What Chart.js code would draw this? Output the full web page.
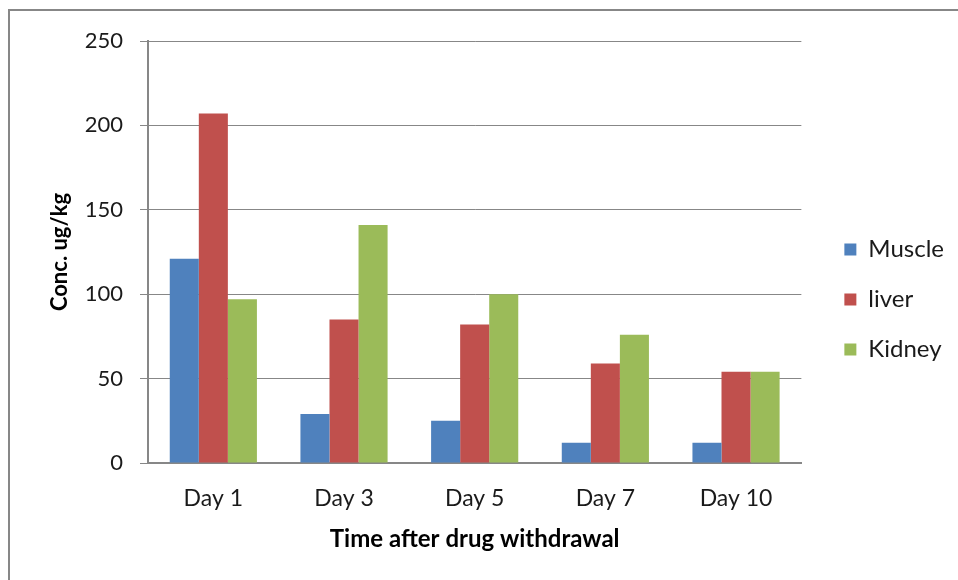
<!DOCTYPE html>
<html>
<head>
<meta charset="utf-8">
<script src="https://cdn.jsdelivr.net/npm/chart.js@4.4.1/dist/chart.umd.min.js"></script>
<style>
  html, body { margin: 0; padding: 0; background: #fff; overflow: hidden; }
  #wrap { position: relative; width: 958px; height: 580px; }
  #frame {
    position: absolute; left: 8px; top: 9px; width: 2000px; height: 2000px;
    border-left: 2px solid #878787; border-top: 2px solid #878787;
    pointer-events: none;
  }
</style>
</head>
<body>
<div id="wrap">
  <canvas id="barChart" width="958" height="580"></canvas>
  <div id="frame"></div>
</div>
<script>
var dias = ["Day 1", "Day 3", "Day 5", "Day 7", "Day 10"];
var musculo = [121, 29, 25, 12, 12];
var figado = [207, 85, 82, 59, 54];
var rim = [97, 141, 100, 76, 54];
var ticksY = [0, 50, 100, 150, 200, 250];

var fonte = "Lato, 'Open Sans', sans-serif";

// empurra a legenda um pouco para a direita (como no Excel)
var deslocaLegenda = {
  id: "deslocaLegenda",
  afterLayout: function (chart) {
    var lg = chart.legend;
    lg.left += 17;
    lg.right += 17;
    lg.top -= 11;
    lg.bottom -= 11;
  },
};

var chartBar = new Chart(document.getElementById("barChart"), {
  type: "bar",

  data: {
    labels: dias,

    datasets: [
      { label: "Muscle", data: musculo, backgroundColor: "#4F81BD" },
      { label: "liver", data: figado, backgroundColor: "#C0504D" },
      { label: "Kidney", data: rim, backgroundColor: "#9BBB59" },
    ],
  },

  plugins: [deslocaLegenda],

  options: {
    responsive: false,
    animation: false,
    categoryPercentage: 0.667,
    barPercentage: 1,

    layout: {
      padding: { top: 41, right: 21, bottom: 0, left: 47 },
    },

    plugins: {
      tooltip: { enabled: false },
      legend: {
        position: "right",
        labels: {
          boxWidth: 12,
          boxHeight: 12,
          padding: 26,
          color: "#1a1a1a",
          font: { family: fonte, size: 24 },
        },
      },
    },

    scales: {
      x: {
        afterFit: function (scale) {
          scale.height = 117;
        },
        grid: { display: false },
        border: { color: "#878787", width: 2 },
        ticks: {
          color: "#1a1a1a",
          padding: 14,
          font: { family: fonte, size: 23 },
        },
        title: {
          display: true,
          text: "Time after drug withdrawal",
          color: "#000",
          font: { family: fonte, size: 24, weight: "bold" },
          padding: { top: 0, bottom: 26 },
        },
      },

      y: {
        min: 0,
        max: 250,
        afterBuildTicks: function (scale) {
          scale.ticks = ticksY.map(function (v) { return { value: v }; });
        },
        afterFit: function (scale) {
          scale.width = 101;
        },
        grid: {
          color: "#878787",
          lineWidth: 1,
          tickLength: 8,
        },
        border: { color: "#878787", width: 2 },
        ticks: {
          color: "#1a1a1a",
          padding: 17,
          font: { family: fonte, size: 22 },
        },
        title: {
          display: true,
          text: "Conc. ug/kg",
          color: "#000",
          font: { family: fonte, size: 22, weight: "bold" },
          padding: { top: 0, bottom: 0 },
        },
      },
    },
  },
});
</script>
</body>
</html>
